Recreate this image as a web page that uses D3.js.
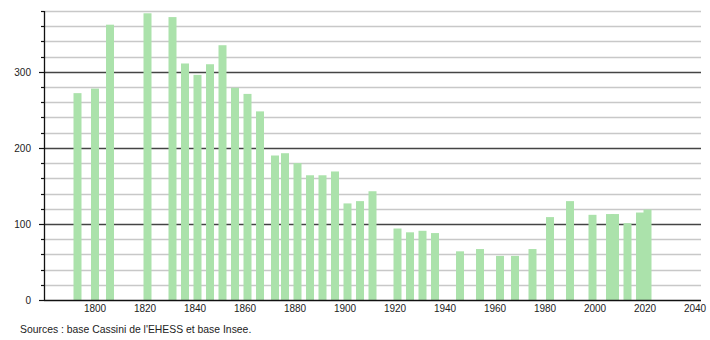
<!DOCTYPE html>
<html>
<head>
<meta charset="utf-8">
<script src="https://cdn.jsdelivr.net/npm/d3@7"></script>
<style>
  body { margin: 0; background: #fff; }
  text { font-family: "Liberation Sans", Arial, sans-serif; }
</style>
</head>
<body>
<script>
var width = 710,
    height = 340;

// recensements
var years = [1793, 1800, 1806, 1821, 1831, 1836, 1841, 1846, 1851, 1856, 1861, 1866,
  1872, 1876, 1881, 1886, 1891, 1896, 1901, 1906, 1911, 1921, 1926, 1931, 1936,
  1946, 1954, 1962, 1968, 1975, 1982, 1990, 1999, 2006, 2008, 2013, 2018, 2021];
var population = [272, 278, 362, 377, 372, 311, 296, 310, 335, 279, 271, 248,
  190, 193, 180, 164, 164, 169, 127, 130, 143, 94, 89, 91, 88,
  64, 67, 58, 58, 67, 109, 130, 112, 113, 113, 101, 115, 119];
var yTicks = [0, 100, 200, 300];
var xTicks = [1800, 1820, 1840, 1860, 1880, 1900, 1920, 1940, 1960, 1980, 2000, 2020, 2040];
var source = "Sources : base Cassini de l'EHESS et base Insee.";

var left = 44, right = 701, bottom = 300;

var x = d3.scaleLinear().domain([1800, 2040]).range([95, 695]);
var y = d3.scaleLinear().domain([0, 380]).range([bottom, 11]);

var svg = d3.select('body').append('svg')
  .attr('width', width)
  .attr('height', height);

// grille : mineure tous les 20, majeure tous les 100
var grid = d3.range(20, 381, 20);
svg.selectAll('line.grid')
  .data(grid)
  .enter()
  .append('line')
  .attr('class', 'grid')
  .attr('x1', left)
  .attr('x2', right)
  .attr('y1', function(d) { return Math.round(y(d)) + 0.5; })
  .attr('y2', function(d) { return Math.round(y(d)) + 0.5; })
  .attr('stroke', function(d) { return d % 100 === 0 ? '#444' : '#c8c8c8'; })
  .attr('stroke-width', 1.3);

// barres
svg.selectAll('rect')
  .data(years)
  .enter()
  .append('rect')
  .attr('x', function(d) { return x(d - 1.6); })
  .attr('width', function(d) { return x(d + 1.6) - x(d - 1.6); })
  .attr('y', function(d, i) { return y(population[i]); })
  .attr('height', function(d, i) { return bottom - y(population[i]); })
  .attr('fill', '#abe2ab');

// axes
svg.append('line')
  .attr('x1', left + 0.5).attr('x2', left + 0.5)
  .attr('y1', y(380)).attr('y2', bottom)
  .attr('stroke', '#111').attr('stroke-width', 1.3);
svg.append('line')
  .attr('x1', left).attr('x2', right)
  .attr('y1', bottom + 0.5).attr('y2', bottom + 0.5)
  .attr('stroke', '#111').attr('stroke-width', 1.3);

svg.selectAll('line.tick')
  .data(d3.range(0, 381, 20))
  .enter()
  .append('line')
  .attr('class', 'tick')
  .attr('x1', function(d) { return d % 100 === 0 ? left - 5 : left - 3; })
  .attr('x2', left)
  .attr('y1', function(d) { return Math.round(y(d)) + 0.5; })
  .attr('y2', function(d) { return Math.round(y(d)) + 0.5; })
  .attr('stroke', '#111')
  .attr('stroke-width', 1.2);

svg.selectAll('text.ylab')
  .data(yTicks)
  .enter()
  .append('text')
  .attr('class', 'ylab')
  .attr('x', 31)
  .attr('y', function(d) { return y(d) + 4; })
  .attr('text-anchor', 'end')
  .attr('font-size', '10px')
  .attr('fill', '#222')
  .text(function(d) { return d; });

svg.selectAll('text.xlab')
  .data(xTicks)
  .enter()
  .append('text')
  .attr('class', 'xlab')
  .attr('x', function(d) { return x(d); })
  .attr('y', 312)
  .attr('text-anchor', 'middle')
  .attr('font-size', '10px')
  .attr('fill', '#222')
  .text(function(d) { return d; });

svg.append('text')
  .attr('x', 20)
  .attr('y', 333)
  .attr('font-size', '10.4px')
  .attr('fill', '#222')
  .text(source);
</script>
</body>
</html>
